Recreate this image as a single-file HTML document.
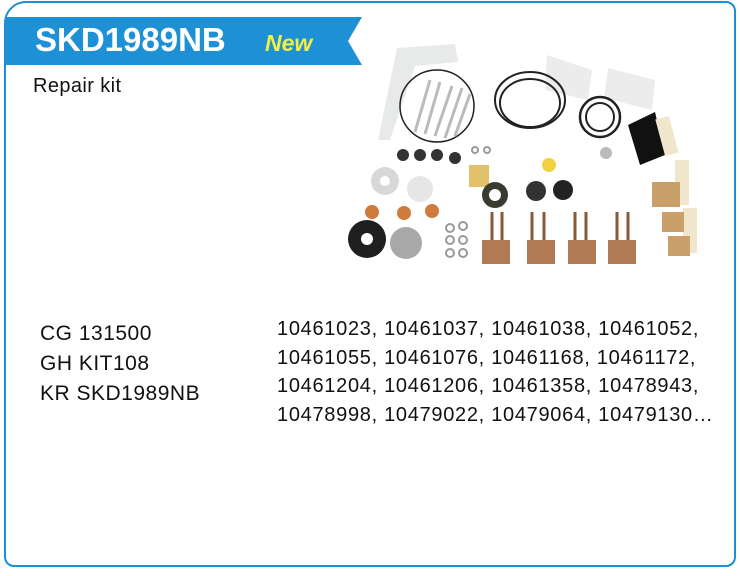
<!DOCTYPE html>
<html><head><style>
body{margin:0;width:740px;height:576px;background:#fff;font-family:"Liberation Sans",Arial,sans-serif;position:relative;overflow:hidden}
.frame{position:absolute;left:4px;top:1px;width:728px;height:562px;border:2px solid #1b8fd6;border-radius:22px 10px 10px 10px}
.t{position:absolute;white-space:nowrap;color:#111}
</style></head><body>
<div class="frame"></div>
<svg style="position:absolute;left:0;top:0" width="740" height="576">
<polygon points="6,17 362,17 348,41 362,65 6,65" fill="#1e90d5"/>
<g>
<path d="M397,48 L455,44 L458,62 L415,66 L390,140 L378,140 Z" fill="#e8eaea"/>
<path d="M547,55 L592,70 L588,100 L545,90Z" fill="#ececec"/>
<path d="M608,68 L655,80 L652,110 L604,98Z" fill="#ececec"/>
<ellipse cx="437" cy="106" rx="37" ry="36" fill="none" stroke="#222" stroke-width="1.5"/>
<g stroke="#bbb" stroke-width="3"><line x1="415" y1="132" x2="430" y2="80"/><line x1="425" y1="134" x2="440" y2="82"/><line x1="435" y1="136" x2="452" y2="86"/><line x1="445" y1="138" x2="462" y2="88"/><line x1="455" y1="136" x2="470" y2="94"/></g>
<ellipse cx="530" cy="100" rx="35" ry="28" fill="none" stroke="#222" stroke-width="2"/>
<ellipse cx="530" cy="103" rx="30" ry="24" fill="none" stroke="#222" stroke-width="2"/>
<circle cx="600" cy="117" r="20" fill="none" stroke="#222" stroke-width="2.5"/>
<circle cx="600" cy="117" r="14" fill="none" stroke="#222" stroke-width="2"/>
<path d="M628,125 L655,112 L665,155 L640,165Z" fill="#111"/>
<rect x="660" y="117" width="14" height="38" fill="#efe6cc" transform="rotate(-15 667 136)"/>
<rect x="675" y="160" width="14" height="45" fill="#efe6cc"/>
<rect x="683" y="208" width="14" height="45" fill="#efe6cc"/>
<rect x="652" y="182" width="28" height="25" fill="#c9a06a"/>
<rect x="662" y="212" width="22" height="20" fill="#c9a06a"/>
<rect x="668" y="236" width="22" height="20" fill="#c9a06a"/>
<g fill="#333"><circle cx="403" cy="155" r="6"/><circle cx="420" cy="155" r="6"/><circle cx="437" cy="155" r="6"/><circle cx="455" cy="158" r="6"/></g>
<circle cx="385" cy="181" r="14" fill="#d8d8d8"/><circle cx="385" cy="181" r="5" fill="#fff"/>
<circle cx="420" cy="189" r="13" fill="#e6e6e6"/>
<rect x="469" y="165" width="20" height="22" fill="#e1c26a"/>
<circle cx="495" cy="195" r="13" fill="#3a3a30"/><circle cx="495" cy="195" r="6" fill="#fff"/>
<circle cx="536" cy="191" r="10" fill="#333"/>
<circle cx="549" cy="165" r="7" fill="#f2d040"/>
<circle cx="563" cy="190" r="10" fill="#222"/>
<circle cx="606" cy="153" r="6" fill="#bbb"/>
<g fill="#d07a3c"><circle cx="372" cy="212" r="7"/><circle cx="404" cy="213" r="7"/><circle cx="432" cy="211" r="7"/></g>
<circle cx="367" cy="239" r="19" fill="#1f1f1f"/><circle cx="367" cy="239" r="6" fill="#fff"/>
<circle cx="406" cy="243" r="16" fill="#a8a8a8"/>
<g fill="#b07a55"><rect x="482" y="240" width="28" height="24"/><rect x="527" y="240" width="28" height="24"/><rect x="568" y="240" width="28" height="24"/><rect x="608" y="240" width="28" height="24"/></g>
<g stroke="#8a5a3a" stroke-width="3"><line x1="492" y1="212" x2="492" y2="240"/><line x1="502" y1="212" x2="502" y2="240"/><line x1="532" y1="212" x2="532" y2="240"/><line x1="544" y1="212" x2="544" y2="240"/><line x1="575" y1="212" x2="575" y2="240"/><line x1="586" y1="212" x2="586" y2="240"/><line x1="617" y1="212" x2="617" y2="240"/><line x1="628" y1="212" x2="628" y2="240"/></g>
<g fill="none" stroke="#999" stroke-width="2"><circle cx="450" cy="228" r="4"/><circle cx="463" cy="226" r="4"/><circle cx="450" cy="240" r="4"/><circle cx="463" cy="240" r="4"/><circle cx="450" cy="253" r="4"/><circle cx="463" cy="253" r="4"/><circle cx="475" cy="150" r="3"/><circle cx="487" cy="150" r="3"/></g>
</g>
</svg>
<div class="t" style="left:35px;top:18px;font-size:33px;font-weight:bold;color:#fff;line-height:44px">SKD1989NB</div>
<div class="t" style="left:265px;top:23px;font-size:23px;font-weight:bold;font-style:italic;color:#f4f040;line-height:40px">New</div>
<div class="t" style="left:33px;top:74px;font-size:20px;letter-spacing:0.4px;line-height:24px">Repair kit</div>
<div class="t" style="left:40px;top:319px;font-size:21px;letter-spacing:0.5px;line-height:30px">CG 131500<br>GH KIT108<br>KR SKD1989NB</div>
<div class="t" style="left:277px;top:315px;font-size:20px;letter-spacing:0.7px;line-height:28.5px">10461023, 10461037, 10461038, 10461052,<br>10461055, 10461076, 10461168, 10461172,<br>10461204, 10461206, 10461358, 10478943,<br>10478998, 10479022, 10479064, 10479130…</div>
</body></html>
